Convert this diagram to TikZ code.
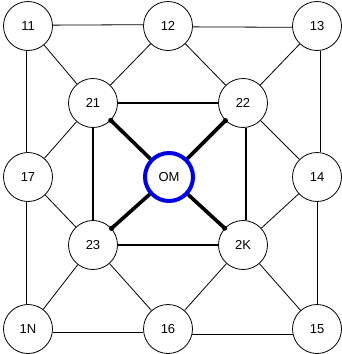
\documentclass[tikz,border=0pt]{standalone}
\usepackage{fontspec}
\setmainfont{Liberation Sans}
\usetikzlibrary{arrows.meta}
\begin{document}
\begin{tikzpicture}[x=1pt,y=-1pt,
  vtx/.style={circle,draw=black,line width=0.8pt,minimum size=49pt,inner sep=0pt,fill=white,font=\fontsize{13}{15}\selectfont},
  ctr/.style={circle,draw={rgb,255:red,0;green,0;blue,230},line width=4pt,minimum size=48pt,inner sep=0pt,fill=white,font=\fontsize{13}{15}\selectfont},
  thin/.style={line width=0.8pt},
  mid/.style={line width=2pt},
  heavy/.style={line width=3.6pt}]
\useasboundingbox (0,0) rectangle (341,354);
\node[vtx] (n11) at (28,26) {11};
\node[vtx] (n12) at (168,26) {12};
\node[vtx] (n13) at (317,26) {13};
\node[vtx] (n21) at (93,103) {21};
\node[vtx] (n22) at (243,103) {22};
\node[vtx] (n17) at (28,177) {17};
\node[ctr] (OM) at (169,177) {OM};
\node[vtx] (n14) at (317,177) {14};
\node[vtx] (n23) at (93,245) {23};
\node[vtx] (n2K) at (243,245) {2K};
\node[vtx] (n1N) at (28,329) {1N};
\node[vtx] (n16) at (168,329) {16};
\node[vtx] (n15) at (317,329) {15};
% outer straight lines
\draw[thin] (n11.2.3) -- (n12.177.7);
\draw[thin] (n12.-2.3) -- (n13.-177.7);
\draw[thin] (n11.-94.7) -- (n17.94.7);
\draw[thin] (n17.-94.7) -- (n1N.94.7);
\draw[thin] (n13.-81.8) -- (n14.81.8);
\draw[thin] (n14) -- (n15);
\draw[thin] (n1N.-9.4) -- (n16.189.4);
\draw[thin] (n16.-13) -- (n15.193);
% diagonals
\draw[thin] (n11) -- (n21);
\draw[thin] (n12) -- (n21);
\draw[thin] (n12) -- (n22);
\draw[thin] (n13) -- (n22);
\draw[thin] (n17) -- (n21);
\draw[thin] (n17) -- (n23);
\draw[thin] (n14) -- (n22);
\draw[thin] (n14) -- (n2K);
\draw[thin] (n1N) -- (n23);
\draw[thin] (n16) -- (n23);
\draw[thin] (n16) -- (n2K);
\draw[thin] (n15) -- (n2K);
% inner square
\draw[mid] (n21) -- (n22);
\draw[mid] (n23) -- (n2K);
\draw[mid] (n21) -- (n23);
\draw[mid] (n22.-83.7) -- (n2K.83.7);
% spokes
\draw[heavy] (n21) -- (OM) coordinate[pos=0] (d21);
\draw[heavy] (n22) -- (OM) coordinate[pos=0] (d22);
\draw[heavy] (n23) -- (OM) coordinate[pos=0] (d23);
\draw[heavy] (n2K) -- (OM) coordinate[pos=0] (d2K);
\foreach \d in {d21,d22,d23,d2K} \fill (\d) circle (2.6pt);
\end{tikzpicture}
\end{document}
